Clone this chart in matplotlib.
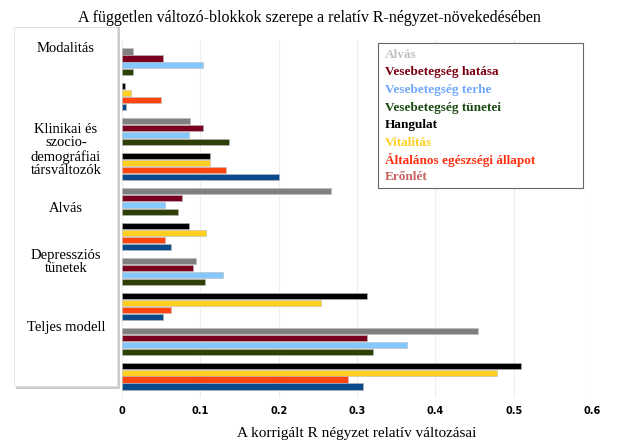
import matplotlib
matplotlib.use("Agg")
import matplotlib.pyplot as plt
from matplotlib.patches import Rectangle

series = ["Alvás", "Vesebetegség hatása", "Vesebetegség terhe", "Vesebetegség tünetei",
          "Hangulat", "Vitalitás", "Általános egészségi állapot", "Erőnlét"]
bar_colors = ["#808080", "#7a0020", "#85c8ff", "#2f3f08", "#000000", "#ffd020", "#ff4510", "#0a4a8a"]
legend_colors = ["#c0c0c0", "#7a0010", "#6fa8ff", "#1a4a10", "#000000", "#ffd020", "#ff3010", "#c86060"]
groups = ["Modalitás", "Klinikai és\nszocio-\ndemográfiai\ntársváltozók", "Alvás",
          "Depressziós\ntünetek", "Teljes modell"]
# block A: first four series, block B: last four series, per group
block_a = [[0.014, 0.052, 0.103, 0.014],
           [0.087, 0.103, 0.085, 0.137],
           [0.267, 0.076, 0.055, 0.072],
           [0.094, 0.091, 0.129, 0.106],
           [0.455, 0.313, 0.364, 0.321]]
block_b = [[0.004, 0.011, 0.050, 0.005],
           [0.112, 0.112, 0.133, 0.201],
           [0.086, 0.107, 0.055, 0.062],
           [0.313, 0.254, 0.062, 0.052],
           [0.509, 0.479, 0.289, 0.308]]
xticks = [0, 0.1, 0.2, 0.3, 0.4, 0.5, 0.6]

W, H = 619, 443
fig = plt.figure(figsize=(W/100, H/100), dpi=100)
ax = fig.add_axes([122/W, 1-398/H, (592-122)/W, (398-40)/H])
serif = "Liberation Serif"

for g in range(len(groups)):
    for b, block in enumerate([block_a[g], block_b[g]]):
        k = g*2 + b
        for j, v in enumerate(block):
            y = k*5 + j
            ax.barh(y, v, height=0.95, color=bar_colors[b*4 + j],
                    edgecolor="#bbbbbb", linewidth=0.4, zorder=3)
ax.set_ylim(49.6, -1.6)
ax.set_xlim(0, 0.6)
ax.set_xticks(xticks)
ax.set_xticklabels([("%g" % t) for t in xticks], fontsize=7, fontweight="bold")
ax.set_yticks([])
ax.grid(axis="x", color="#eeeeee", linewidth=0.8, zorder=0)
for s in ["top", "right", "left", "bottom"]:
    ax.spines[s].set_visible(False)
ax.tick_params(axis="x", length=0, pad=6)
ax.set_xlabel("A korrigált R négyzet relatív változásai", fontsize=11, family=serif, labelpad=8)

fig.text(0.5, 1-18/H, "A független változó-blokkok szerepe a relatív R-négyzet-növekedésében",
         ha="center", va="center", fontsize=11.5, family=serif)

# left label panel with shadow
fig.patches.append(Rectangle((16/W, 1-389/H), 104/W, 362/H, transform=fig.transFigure,
                             facecolor="#cccccc", edgecolor="none", zorder=1))
fig.patches.append(Rectangle((14/W, 1-386/H), 103/W, 359/H, transform=fig.transFigure,
                             facecolor="white", edgecolor="#dddddd", linewidth=0.5, zorder=2))
label_y = [48, 150, 208, 262, 328]
for lab, ypx in zip(groups, label_y):
    fig.text(66/W, 1-ypx/H, lab, ha="center", va="center", fontsize=10.5,
             family=serif, linespacing=1.05, zorder=3)

# legend box
fig.patches.append(Rectangle((378/W, 1-188/H), 205/W, 145/H, transform=fig.transFigure,
                             facecolor="white", edgecolor="#666666", linewidth=0.8, zorder=4))
for i, (name, c) in enumerate(zip(series, legend_colors)):
    fig.text(385/W, 1-(55 + i*17.5)/H, name, ha="left", va="center", fontsize=9.5,
             family=serif, fontweight="bold", color=c, zorder=5)

fig.savefig("out.png", dpi=100)
